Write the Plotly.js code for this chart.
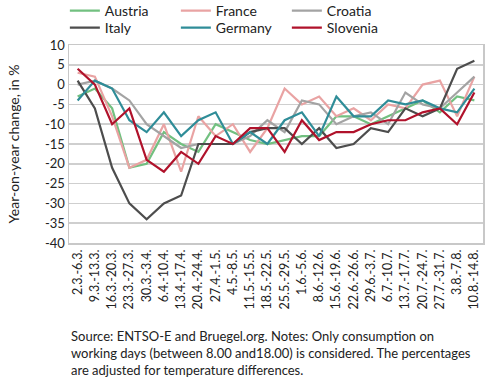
<!DOCTYPE html>
<html>
<head>
<meta charset="utf-8">
<script src="https://cdn.plot.ly/plotly-3.0.1.min.js"></script>
<style>html,body{margin:0;padding:0;background:#fff;}#chart{width:490px;height:378px;}</style>
</head>
<body>
<div id="chart"></div>
<script>
var weeks = ["2.3.-6.3.","9.3.-13.3.","16.3.-20.3.","23.3.-27.3.","30.3.-3.4.","6.4.-10.4.","13.4.-17.4.","20.4.-24.4.","27.4.-1.5.","4.5.-8.5.","11.5.-15.5.","18.5.-22.5.","25.5.-29.5.","1.6.-5.6.","8.6.-12.6.","15.6.-19.6.","22.6.-26.6.","29.6.-3.7.","6.7.-10.7.","13.7.-17.7.","20.7.-24.7.","27.7.-31.7.","3.8.-7.8.","10.8.-14.8."];

var austria  = [-3, -1, -6, -21, -20, -12, -15, -17, -10, -12, -14, -15, -14, -13, -13, -8, -8, -10, -8, -6, -4, -7, -3, -4];
var france   = [3, 2, -8, -21, -19, -10, -22, -8, -13, -10, -17, -11, -1, -5, -3, -8, -6, -9, -5, -6, 0, 1, -8, 2];
var croatia  = [0, 1, -1, -4, -10, -13, -16, -15, -15, -15, -13, -9, -12, -4, -5, -10, -8, -7, -10, -2, -5, -6, -2, 2];
var italy    = [1, -6, -21, -30, -34, -30, -28, -15, -15, -15, -12, -11, -11, -15, -11, -16, -15, -11, -12, -6, -8, -6, 4, 6];
var germany  = [-4, 1, -1, -9, -12, -7, -13, -9, -7, -15, -12, -15, -9, -7, -13, -3, -8, -8, -4, -5, -4, -6, -7, -1];
var slovenia = [4, 0, -10, -6, -19, -22, -17, -20, -13, -15, -11, -11, -17, -9, -14, -12, -12, -10, -9, -9, -7, -6, -10, -2];

var yTickVals = [10, 5, 0, -5, -10, -15, -20, -25, -30, -35, -40];
var yTickText = ["10", "5", "0", "-5", "-10", "-15", "-20", "-25", "-30", "-35", "-40"];

var FONT = "Lato, 'Open Sans', sans-serif";

function tr(name, y, color, legend) {
  return {type: "scatter", mode: "lines", name: name, x: weeks, y: y,
          line: {color: color, width: 2.2}, legend: legend};
}

var data = [
  tr("Austria", austria, "#72c080", "legend"),
  tr("France", france, "#e9a3a3", "legend"),
  tr("Croatia", croatia, "#a3a3a3", "legend"),
  tr("Italy", italy, "#4d4d4d", "legend2"),
  tr("Germany", germany, "#2f8d98", "legend2"),
  tr("Slovenia", slovenia, "#b0122b", "legend2")
];

function leg(y) {
  return {orientation: "h", xref: "paper", yref: "paper", x: -0.01, y: y,
    xanchor: "left", yanchor: "middle",
    entrywidth: 66, entrywidthmode: "pixels", itemwidth: 30,
    font: {family: FONT, size: 14, color: "#222"},
    bgcolor: "rgba(0,0,0,0)", borderwidth: 0, traceorder: "normal"};
}

var layout = {
  width: 490, height: 378,
  margin: {l: 69, r: 7, t: 45, b: 135, autoexpand: false},
  paper_bgcolor: "#fff", plot_bgcolor: "#fff",
  showlegend: true,
  legend: leg((243 - 11) / 198),
  legend2: leg((243 - 28) / 198),
  xaxis: {
    type: "category", range: [-0.5, 23.5], tickangle: -90,
    tickfont: {family: FONT, size: 12.5, color: "#222"},
    showgrid: false, showline: true, mirror: true, linecolor: "#c8c8c8", linewidth: 1.5,
    ticks: "", zeroline: false, fixedrange: true
  },
  yaxis: {
    range: [-40, 10], tickvals: yTickVals, ticktext: yTickText,
    tickfont: {family: FONT, size: 13, color: "#222"},
    showgrid: true, gridcolor: "#cfcfcf", gridwidth: 1.5,
    showline: true, mirror: true, linecolor: "#c8c8c8", linewidth: 1.5,
    zeroline: false, ticks: "", ticklen: 0,
    title: {text: "Year-on-year change, in %", font: {family: FONT, size: 14, color: "#222"}, standoff: 22}
  },
  annotations: [{
    xref: "paper", yref: "paper", x: 0.0, y: (243 - 326) / 198, xanchor: "left", yanchor: "top", align: "left",
    showarrow: false,
    font: {family: FONT, size: 13, color: "#222"},
    text: "Source: ENTSO-E and Bruegel.org. Notes: Only consumption on<br>working days (between 8.00 and18.00) is considered. The percentages<br>are adjusted for temperature differences."
  }]
};

Plotly.newPlot("chart", data, layout, {displayModeBar: false, staticPlot: true});
</script>
</body>
</html>
